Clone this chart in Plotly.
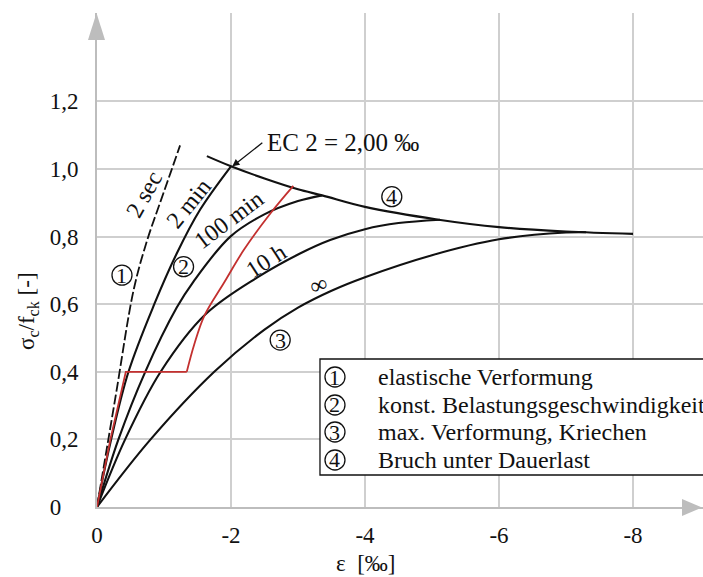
import plotly.graph_objects as go

# --- curve data: strain eps [per mille] vs. stress ratio sigma_c / f_ck ---
eps_2sec = [0, -0.28, -0.55, -0.75, -0.95, -1.10, -1.24]
sig_2sec = [0, 0.33, 0.645, 0.79, 0.905, 0.99, 1.07]

eps_2min = [0, -0.20, -0.47, -0.855, -1.19, -1.54, -2.00]
sig_2min = [0, 0.19, 0.40, 0.60, 0.75, 0.88, 1.008]

eps_100min = [0, -0.32, -0.72, -1.19, -1.44, -1.99, -2.49, -3.00, -3.36]
sig_100min = [0, 0.20, 0.40, 0.59, 0.667, 0.80, 0.865, 0.905, 0.922]

eps_10h = [0, -0.42, -0.95, -1.62, -2.40, -3.03, -3.48, -4.00, -4.50, -5.12]
sig_10h = [0, 0.20, 0.40, 0.57, 0.68, 0.75, 0.79, 0.822, 0.84, 0.85]

eps_inf = [0, -0.80, -1.75, -2.50, -3.00, -3.50, -4.00, -5.00, -6.00, -7.00, -7.30]
sig_inf = [0, 0.20, 0.40, 0.525, 0.59, 0.64, 0.68, 0.745, 0.792, 0.812, 0.813]

eps_fail = [-1.64, -2.00, -2.50, -3.00, -3.36, -4.00, -5.10, -6.00, -7.00, -8.00]
sig_fail = [1.038, 1.008, 0.972, 0.94, 0.922, 0.888, 0.85, 0.828, 0.815, 0.808]

eps_red_load = [0, -0.20, -0.43, -1.34]
sig_red_load = [0, 0.20, 0.40, 0.40]
eps_red_rise = [-1.34, -1.45, -1.60, -1.90, -2.19, -2.59, -2.93]
sig_red_rise = [0.40, 0.48, 0.565, 0.665, 0.76, 0.869, 0.95]

x_ticks = [0, -2, -4, -6, -8]
x_tick_text = ["0", "-2", "-4", "-6", "-8"]
y_ticks = [0, 0.2, 0.4, 0.6, 0.8, 1.0, 1.2]
y_tick_text = ["0\u00a0\u00a0\u00a0", "0,2", "0,4", "0,6", "0,8", "1,0", "1,2"]

curve_labels = ["2 sec", "2 min", "100 min", "10 h", "\u221e"]
curve_label_eps = [-0.71, -1.36, -1.96, -2.52, -3.30]
curve_label_sig = [0.925, 0.897, 0.85, 0.728, 0.656]
curve_label_angle = [-61, -51, -37, -33, -20]

marker_nums = ["1", "2", "3", "4"]
marker_eps = [-0.373, -1.292, -2.734, -4.40]
marker_sig = [0.686, 0.711, 0.494, 0.918]

legend_texts = ["elastische Verformung", "konst. Belastungsgeschwindigkeit",
                "max. Verformung, Kriechen", "Bruch unter Dauerlast"]
legend_sig = [0.3846, 0.3018, 0.2219, 0.1391]
legend_circle_eps = -3.552
legend_text_eps = -4.17

ec2_label = "EC 2 = 2,00 \u2030"

FONT = "Liberation Serif"
BLACK = "#111111"
RED = "#c3302f"
GRID = "#cfcfcf"
AXIS = "#bdbdbd"

W, H = 703, 577
ML, MR, MT, MB = 97, 0, 13, 70
PX_PER_X = 67.0
PX_PER_Y = 338.0
plot_w = W - ML - MR
plot_h = H - MT - MB

fig = go.Figure()

def add_curve(x, y, color=BLACK, width=2.1, dash=None, shape="spline"):
    fig.add_trace(go.Scatter(
        x=x, y=y, mode="lines",
        line=dict(color=color, width=width, dash=dash, shape=shape, smoothing=1.0),
        hoverinfo="skip", showlegend=False))

add_curve(eps_2sec, sig_2sec, width=1.8, dash="10px,3px")
add_curve(eps_2min, sig_2min)
add_curve(eps_100min, sig_100min)
add_curve(eps_10h, sig_10h)
add_curve(eps_inf, sig_inf)
add_curve(eps_fail, sig_fail)
add_curve(eps_red_load, sig_red_load, color=RED, width=1.8, shape="linear")
add_curve(eps_red_rise, sig_red_rise, color=RED, width=1.8)

annotations = []
shapes = []

# rotated labels along the curves
for t, ex, sy, ang in zip(curve_labels, curve_label_eps, curve_label_sig, curve_label_angle):
    annotations.append(dict(x=ex, y=sy, text=t, showarrow=False, textangle=ang,
                            xanchor="center", yanchor="middle",
                            font=dict(family=FONT, size=24, color=BLACK)))

# circled markers
def circled(ex, sy, num):
    shapes.append(dict(type="circle", xref="x", yref="y", xsizemode="pixel",
                       ysizemode="pixel", xanchor=ex, yanchor=sy,
                       x0=-10, x1=10, y0=-10, y1=10,
                       line=dict(color=BLACK, width=1.3), fillcolor="rgba(0,0,0,0)"))
    annotations.append(dict(x=ex, y=sy, text=num, showarrow=False,
                            xanchor="center", yanchor="middle",
                            font=dict(family=FONT, size=22, color=BLACK)))

for n, ex, sy in zip(marker_nums, marker_eps, marker_sig):
    circled(ex, sy, n)

# legend box
shapes.append(dict(type="rect", xref="x", yref="y", x0=-3.328, x1=-9.6,
                   y0=0.0947, y1=0.4379, line=dict(color=BLACK, width=1.3),
                   fillcolor="white", layer="above"))
for n, t, sy in zip(marker_nums, legend_texts, legend_sig):
    circled(legend_circle_eps, sy, n)
    annotations.append(dict(x=legend_text_eps, y=sy, text=t, showarrow=False,
                            xanchor="left", yanchor="middle",
                            font=dict(family=FONT, size=24, color=BLACK)))

# EC 2 pointer
annotations.append(dict(x=-2.02, y=1.008, ax=-2.49, ay=1.081, axref="x", ayref="y",
                        text="", showarrow=True, arrowhead=2, arrowsize=1.1,
                        arrowwidth=1.3, arrowcolor=BLACK, standoff=0))
annotations.append(dict(x=-2.50, y=1.077, text=ec2_label, showarrow=False,
                        xanchor="left", yanchor="middle",
                        font=dict(family=FONT, size=25, color=BLACK)))

# axis titles
annotations.append(dict(xref="paper", yref="paper",
                        x=(365 - ML) / plot_w, y=(H - MB - 563) / plot_h,
                        xanchor="center", yanchor="middle",
                        text="\u03b5  [\u2030]", showarrow=False,
                        font=dict(family=FONT, size=23, color=BLACK)))
annotations.append(dict(xref="paper", yref="paper",
                        x=(28 - ML) / plot_w, y=(H - MB - 311) / plot_h,
                        xanchor="center", yanchor="middle",
                        text="\u03c3<sub>c</sub>/f<sub>ck</sub> [-]", textangle=-90,
                        showarrow=False, font=dict(family=FONT, size=23, color=BLACK)))

# axis arrowheads (paper coordinates)
def px2paper(px, py):
    return (px - ML) / plot_w, (H - MB - py) / plot_h

tx, ty = px2paper(96.5, 13)
bx1, by1 = px2paper(96.5 - 8.5, 40)
bx2, _ = px2paper(96.5 + 8.5, 40)
shapes.append(dict(type="path", xref="paper", yref="paper",
                   path=f"M {tx} {ty} L {bx1} {by1} L {bx2} {by1} Z",
                   fillcolor=AXIS, line=dict(width=0)))
tx, ty = px2paper(702, 507.5)
bx, by1 = px2paper(682, 507.5 - 8.5)
_, by2 = px2paper(682, 507.5 + 8.5)
shapes.append(dict(type="path", xref="paper", yref="paper",
                   path=f"M {tx} {ty} L {bx} {by1} L {bx} {by2} Z",
                   fillcolor=AXIS, line=dict(width=0)))

fig.update_layout(
    width=W, height=H,
    margin=dict(l=ML, r=MR, t=MT, b=MB),
    paper_bgcolor="white", plot_bgcolor="white",
    font=dict(family=FONT, size=23, color=BLACK),
    xaxis=dict(range=[0, -plot_w / PX_PER_X], tickvals=x_ticks, ticktext=x_tick_text,
               showgrid=True, gridcolor=GRID, gridwidth=1.5, zeroline=False,
               showline=True, linecolor=AXIS, linewidth=2, ticks="",
               ticklabelstandoff=6,
               tickfont=dict(family=FONT, size=23, color=BLACK)),
    yaxis=dict(range=[0, plot_h / PX_PER_Y], tickvals=y_ticks, ticktext=y_tick_text,
               showgrid=True, gridcolor=GRID, gridwidth=1.5, zeroline=False,
               showline=True, linecolor=AXIS, linewidth=2, ticks="",
               ticklabelstandoff=12,
               tickfont=dict(family=FONT, size=23, color=BLACK)),
    annotations=annotations,
    shapes=shapes,
)

fig.write_html("out.html")
